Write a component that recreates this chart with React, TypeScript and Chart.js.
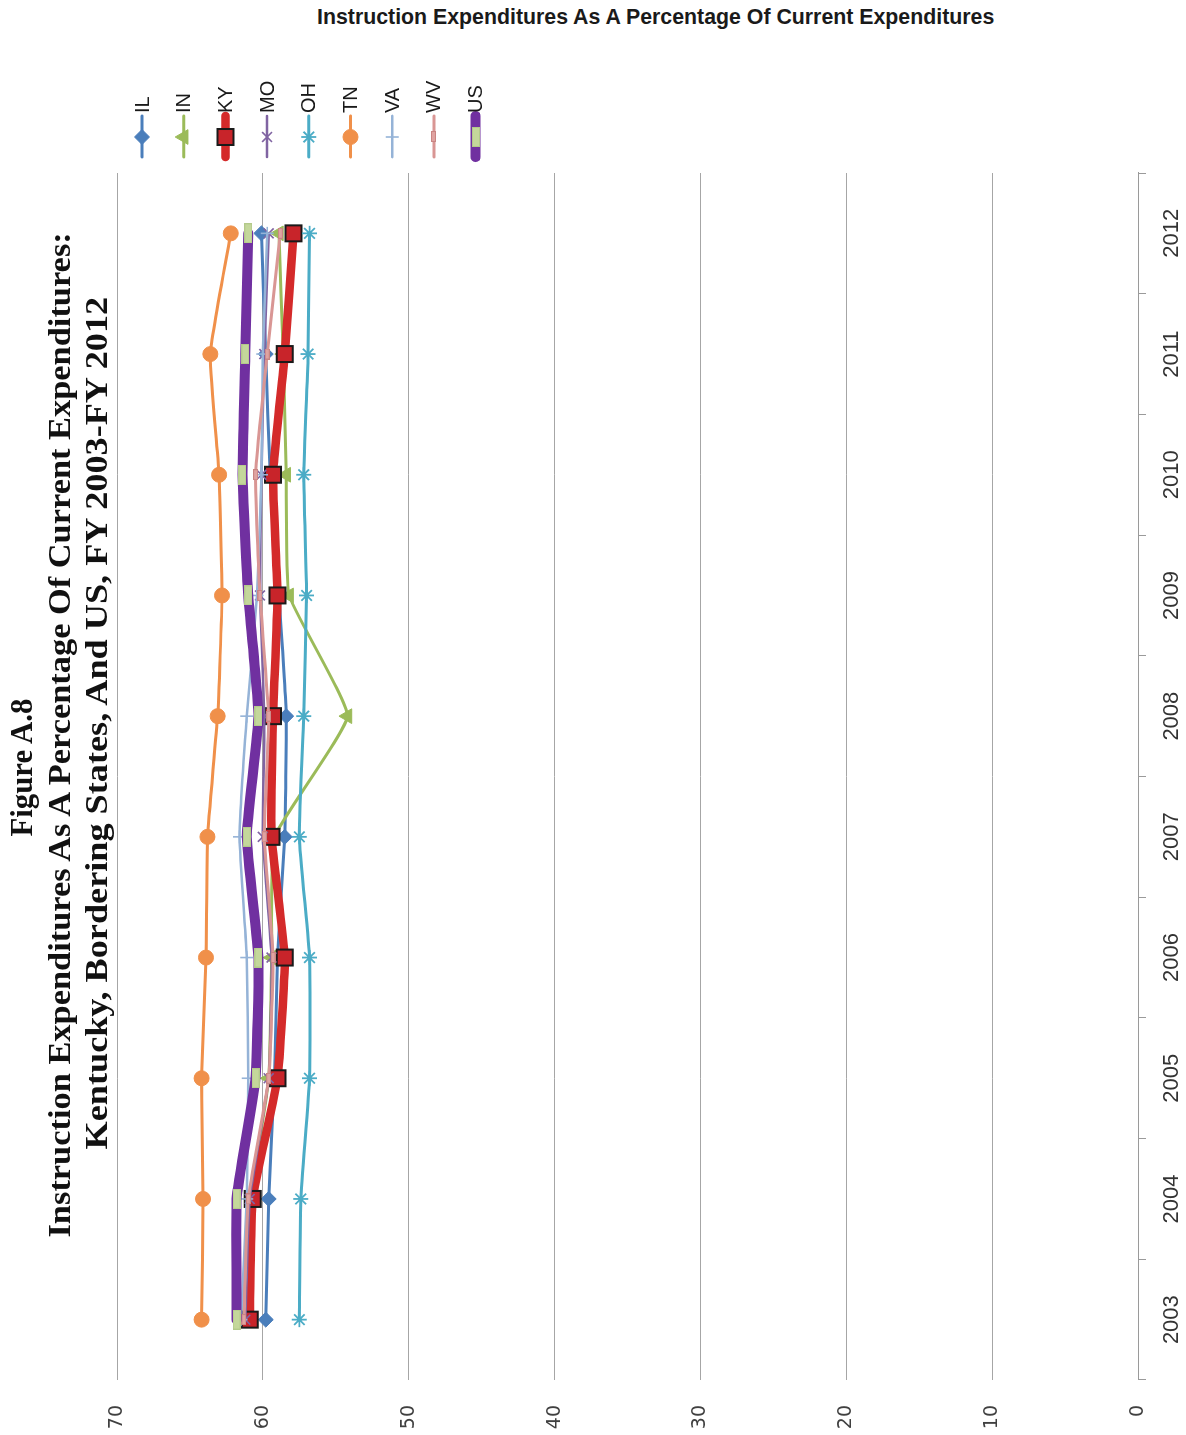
import React, { useEffect, useLayoutEffect, useRef } from 'react';
import { Chart, registerables } from 'chart.js';

Chart.register(...registerables);

// ---------- data ----------
const years = ['2003', '2004', '2005', '2006', '2007', '2008', '2009', '2010', '2011', '2012'];
const seriesNames = ['IL', 'IN', 'KY', 'MO', 'OH', 'TN', 'VA', 'WV', 'US'];
const IL = [59.8, 59.6, 59.2, 59.0, 58.5, 58.4, 58.9, 59.5, 59.8, 60.1];
const IN = [61.4, 60.8, 59.6, 59.4, 59.2, 54.2, 58.2, 58.4, 58.6, 58.9];
const KY = [60.9, 60.7, 59.0, 58.5, 59.4, 59.3, 59.0, 59.3, 58.5, 57.9];
const MO = [61.2, 60.9, 59.6, 59.4, 60.0, 59.9, 60.2, 60.1, 59.9, 59.6];
const OH = [57.5, 57.4, 56.8, 56.8, 57.5, 57.2, 57.0, 57.2, 56.9, 56.8];
const TN = [64.2, 64.1, 64.2, 63.9, 63.8, 63.1, 62.8, 63.0, 63.6, 62.2];
const VA = [61.5, 61.1, 61.0, 61.1, 61.6, 61.1, 60.4, 60.1, 60.0, 59.7];
const WV = [61.3, 61.0, 59.6, 59.3, 59.9, 59.6, 60.2, 60.5, 59.7, 58.8];
const US = [61.8, 61.8, 60.5, 60.3, 61.1, 60.3, 61.0, 61.4, 61.2, 61.0];
const seriesValues = [IL, IN, KY, MO, OH, TN, VA, WV, US];
const valueMin = 0;
const valueMax = 70;
const valueStep = 10;

const chartTitle = 'Instruction Expenditures As A Percentage Of Current Expenditures';
const figureLines = [
  'Figure A.8',
  'Instruction Expenditures As A Percentage Of Current Expenditures:',
  'Kentucky, Bordering States, And US, FY 2003-FY 2012',
];

// ---------- styles ----------
type SStyle = {
  color: string;
  width: number;
  point: string;
  r: number;
  fill: string;
  stroke: string;
  bw: number;
};
const seriesStyles: SStyle[] = [
  { color: '#4A7EBB', width: 3, point: 'rectRot', r: 7.5, fill: '#4A7EBB', stroke: '#4A7EBB', bw: 1 },
  { color: '#9BBB59', width: 3, point: 'triangle', r: 8.5, fill: '#9BBB59', stroke: '#9BBB59', bw: 1 },
  { color: '#D42A2A', width: 8.5, point: 'rect', r: 11.3, fill: '#C8242A', stroke: '#1a1a1a', bw: 2 },
  { color: '#8064A2', width: 2.5, point: 'crossRot', r: 7, fill: '#8064A2', stroke: '#8064A2', bw: 1.6 },
  { color: '#4BACC6', width: 3, point: 'star', r: 7.5, fill: '#4BACC6', stroke: '#4BACC6', bw: 1.8 },
  { color: '#F0904A', width: 3, point: 'circle', r: 7.5, fill: '#F0904A', stroke: '#F0904A', bw: 1 },
  { color: '#95B3D7', width: 2.5, point: 'cross', r: 6.5, fill: '#95B3D7', stroke: '#95B3D7', bw: 1.6 },
  { color: '#D99694', width: 3, point: 'wvDash', r: 5, fill: '#D99694', stroke: '#D99694', bw: 1 },
  { color: '#7030A0', width: 10, point: 'usDash', r: 5, fill: '#C4D79B', stroke: '#C4D79B', bw: 1 },
];

function makeDash(w: number, h: number, fill: string, edge: string) {
  const c = document.createElement('canvas');
  c.width = w;
  c.height = h;
  const g = c.getContext('2d')!;
  g.fillStyle = edge;
  g.fillRect(0, 0, w, h);
  g.fillStyle = fill;
  g.fillRect(1, 1, w - 2, h - 2);
  return c;
}

function drawMarker(ctx: CanvasRenderingContext2D, style: any, x: number, y: number, s: SStyle) {
  if (style instanceof HTMLCanvasElement) {
    ctx.drawImage(style, Math.round(x - style.width / 2), Math.round(y - style.height / 2));
    return;
  }
  const r = s.r;
  ctx.save();
  ctx.beginPath();
  ctx.fillStyle = s.fill;
  ctx.strokeStyle = s.stroke;
  ctx.lineWidth = s.bw;
  let fillable = true;
  switch (style) {
    case 'circle':
      ctx.arc(x, y, r, 0, Math.PI * 2);
      ctx.closePath();
      break;
    case 'rectRot':
      ctx.moveTo(x - r, y);
      ctx.lineTo(x, y - r);
      ctx.lineTo(x + r, y);
      ctx.lineTo(x, y + r);
      ctx.closePath();
      break;
    case 'rect': {
      const h = r * Math.SQRT1_2;
      ctx.rect(x - h, y - h, 2 * h, 2 * h);
      break;
    }
    case 'triangle': {
      let a = 0;
      ctx.moveTo(x + Math.sin(a) * r, y - Math.cos(a) * r);
      a += (Math.PI * 2) / 3;
      ctx.lineTo(x + Math.sin(a) * r, y - Math.cos(a) * r);
      a += (Math.PI * 2) / 3;
      ctx.lineTo(x + Math.sin(a) * r, y - Math.cos(a) * r);
      ctx.closePath();
      break;
    }
    case 'cross':
      fillable = false;
      ctx.moveTo(x, y - r);
      ctx.lineTo(x, y + r);
      ctx.moveTo(x - r, y);
      ctx.lineTo(x + r, y);
      break;
    case 'crossRot': {
      fillable = false;
      const o = r * Math.SQRT1_2;
      ctx.moveTo(x - o, y - o);
      ctx.lineTo(x + o, y + o);
      ctx.moveTo(x - o, y + o);
      ctx.lineTo(x + o, y - o);
      break;
    }
    case 'star': {
      fillable = false;
      const o = r * Math.SQRT1_2;
      ctx.moveTo(x - o, y - o);
      ctx.lineTo(x + o, y + o);
      ctx.moveTo(x - o, y + o);
      ctx.lineTo(x + o, y - o);
      ctx.moveTo(x, y - r);
      ctx.lineTo(x, y + r);
      ctx.moveTo(x - r, y);
      ctx.lineTo(x + r, y);
      break;
    }
  }
  if (fillable) ctx.fill();
  ctx.stroke();
  ctx.restore();
}

// ---------- text helper ----------
function FitText(props: { text: string; cx: number; cy: number; width: number; font: string; color: string }) {
  const ref = useRef<HTMLSpanElement>(null);
  useLayoutEffect(() => {
    const fit = () => {
      const el = ref.current;
      if (!el) return;
      el.style.transform = 'none';
      const natural = el.offsetWidth;
      if (natural > 0) el.style.transform = `scaleX(${props.width / natural})`;
    };
    fit();
    if ((document as any).fonts && (document as any).fonts.ready) {
      (document as any).fonts.ready.then(fit);
    }
  }, [props.text, props.width, props.font]);
  return (
    <div
      style={{
        position: 'absolute',
        left: props.cx - 800,
        top: props.cy - 40,
        width: 1600,
        height: 80,
        display: 'flex',
        alignItems: 'center',
        justifyContent: 'center',
        pointerEvents: 'none',
      }}
    >
      <span
        ref={ref}
        style={{
          display: 'inline-block',
          whiteSpace: 'nowrap',
          font: props.font,
          color: props.color,
          transformOrigin: 'center center',
        }}
      >
        {props.text}
      </span>
    </div>
  );
}

// ---------- layout (unrotated chart coordinates) ----------
const CW = 1435; // canvas width (becomes page height after rotation)
const CH = 1186; // canvas height (becomes page width)

export default function App() {
  const canvasRef = useRef<HTMLCanvasElement>(null);

  useEffect(() => {
    const canvas = canvasRef.current;
    if (!canvas) return;
    const usDash = makeDash(20, 8, '#C4D79B', '#B3C98A');
    const wvDash = makeDash(11, 5, '#E0A3A1', '#C98583');
    const resolveStyle = (p: string) => (p === 'usDash' ? usDash : p === 'wvDash' ? wvDash : p);

    const legendPlugin = {
      id: 'sideLegend',
      afterDraw(chart: any) {
        const ctx: CanvasRenderingContext2D = chart.ctx;
        const area = chart.chartArea;
        const x0 = area.right + 16;
        const x1 = area.right + 57;
        const mx = area.right + 36;
        const tx = area.right + 60;
        seriesNames.forEach((name, i) => {
          const s = seriesStyles[i];
          const y = 142 + i * 41.7;
          ctx.save();
          ctx.beginPath();
          ctx.strokeStyle = s.color;
          ctx.lineWidth = s.width;
          ctx.lineCap = 'round';
          ctx.moveTo(x0, y);
          ctx.lineTo(x1, y);
          ctx.stroke();
          ctx.restore();
          drawMarker(ctx, resolveStyle(s.point), mx, y, s);
          ctx.save();
          ctx.fillStyle = '#1a1a1a';
          ctx.font = "20px 'Liberation Sans', Arial, sans-serif";
          ctx.textAlign = 'left';
          ctx.textBaseline = 'middle';
          ctx.fillText(name, tx, y + 1);
          ctx.restore();
        });
      },
    };

    const chart = new Chart(canvas, {
      type: 'line',
      data: {
        labels: years,
        datasets: seriesNames.map((name, i) => {
          const s = seriesStyles[i];
          return {
            label: name,
            data: seriesValues[i],
            borderColor: s.color,
            backgroundColor: s.color,
            borderWidth: s.width,
            borderCapStyle: 'round',
            borderJoinStyle: 'round',
            tension: 0.12,
            fill: false,
            pointStyle: resolveStyle(s.point) as any,
            pointRadius: s.r,
            pointHoverRadius: s.r,
            pointBackgroundColor: s.fill,
            pointBorderColor: s.stroke,
            pointBorderWidth: s.bw,
            order: seriesNames.length - 1 - i,
            clip: false as any,
          } as any;
        }),
      },
      options: {
        animation: false,
        responsive: false,
        maintainAspectRatio: false,
        devicePixelRatio: 1,
        events: [],
        layout: { padding: { top: 117, right: 173, left: 0, bottom: 0 } },
        plugins: {
          legend: { display: false },
          tooltip: { enabled: false },
          title: { display: false },
        },
        scales: {
          x: {
            type: 'category',
            offset: true,
            grid: {
              display: true,
              drawOnChartArea: false,
              drawTicks: true,
              tickLength: 8,
              color: '#9a9a9a',
              offset: true,
            },
            border: { display: true, color: '#9a9a9a', width: 1 },
            ticks: {
              font: { family: "'Liberation Sans', Arial, sans-serif", size: 22 },
              color: '#333333',
              padding: 13,
              maxRotation: 0,
              minRotation: 0,
              autoSkip: false,
            },
            afterFit: (s: any) => {
              s.height = CH - 1138;
            },
          },
          y: {
            min: valueMin,
            max: valueMax,
            ticks: {
              stepSize: valueStep,
              font: { family: "'DejaVu Sans', sans-serif", size: 19 },
              color: '#404040',
              padding: 25,
            },
            grid: { color: '#a6a6a6', lineWidth: 1, drawTicks: false },
            border: { display: false },
            afterFit: (s: any) => {
              s.width = 55;
            },
          },
        },
      } as any,
      plugins: [legendPlugin],
    });
    return () => chart.destroy();
  }, []);

  return (
    <div
      style={{
        position: 'absolute',
        left: 0,
        top: 0,
        width: 1186,
        height: 1435,
        overflow: 'hidden',
        background: '#ffffff',
      }}
    >
      <FitText
        text={chartTitle}
        cx={656}
        cy={17}
        width={677}
        font="bold 22px 'Liberation Sans', Arial, sans-serif"
        color="#1a1a1a"
      />
      <div
        style={{
          position: 'absolute',
          left: 0,
          top: 0,
          width: CW,
          height: CH,
          transformOrigin: '0 0',
          transform: `translateY(${CW}px) rotate(-90deg)`,
        }}
      >
        <canvas
          ref={canvasRef}
          width={CW}
          height={CH}
          style={{ position: 'absolute', left: 0, top: 0, width: CW, height: CH, display: 'block' }}
        />
        <FitText
          text={figureLines[0]}
          cx={667}
          cy={22}
          width={138}
          font="bold 31px 'Liberation Serif', 'Times New Roman', serif"
          color="#111111"
        />
        <FitText
          text={figureLines[1]}
          cx={700}
          cy={60}
          width={1005}
          font="bold 31px 'Liberation Serif', 'Times New Roman', serif"
          color="#111111"
        />
        <FitText
          text={figureLines[2]}
          cx={712}
          cy={97}
          width={853}
          font="bold 31px 'Liberation Serif', 'Times New Roman', serif"
          color="#111111"
        />
      </div>
    </div>
  );
}
